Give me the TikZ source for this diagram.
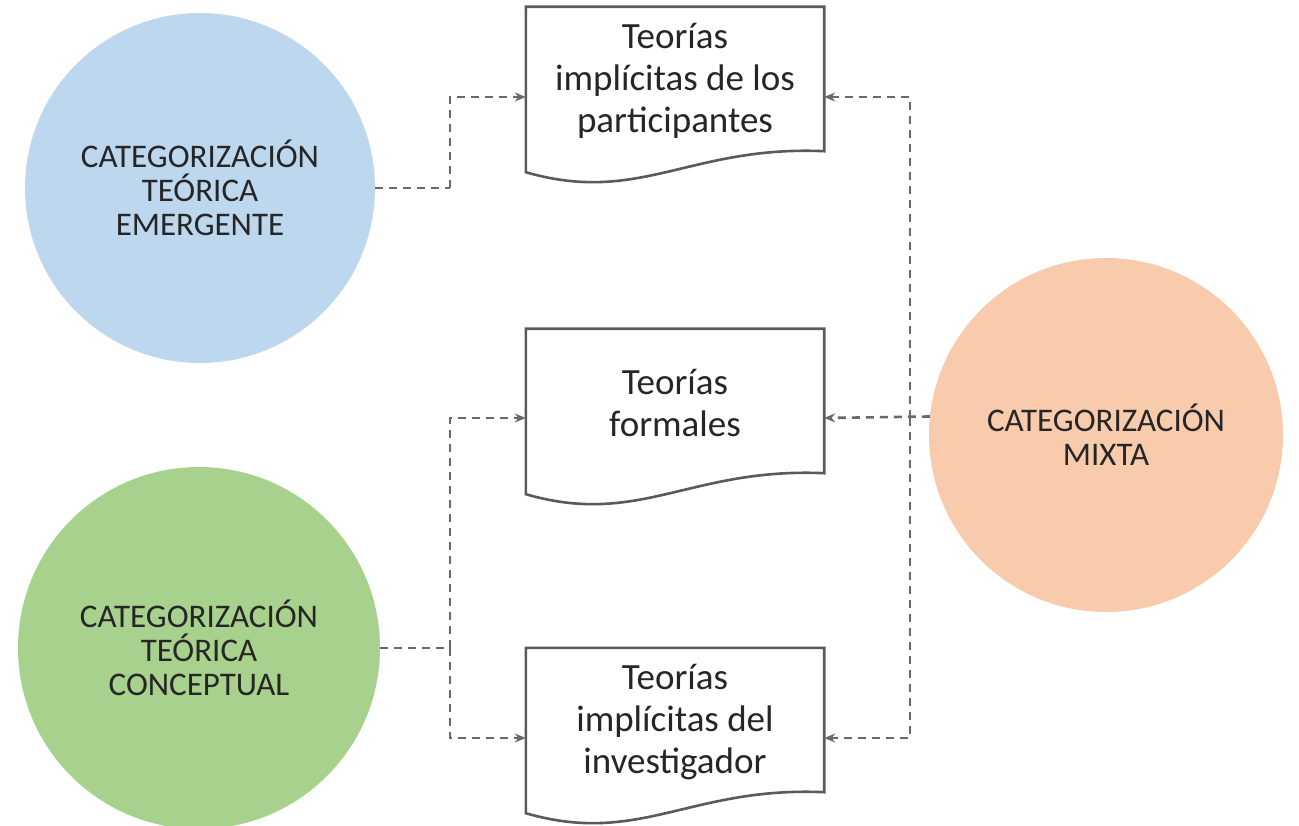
\documentclass[tikz,border=0pt]{standalone}
\usepackage{fontspec}
\setmainfont{Carlito}
\usetikzlibrary{arrows.meta}
\definecolor{cblue}{RGB}{189,215,238}
\definecolor{cgreen}{RGB}{169,209,142}
\definecolor{corange}{RGB}{248,203,173}
\definecolor{lgray}{RGB}{90,90,90}
\definecolor{cgray}{RGB}{105,105,105}
\begin{document}
\begin{tikzpicture}[x=1pt,y=-1pt,
  circ/.style={circle,inner sep=0pt,align=center,text=black!85,font=\fontsize{33}{34}\selectfont},
  doc/.style={minimum width=298pt,minimum height=144pt,inner sep=0pt,align=center,text=black!85,font=\fontsize{37}{42}\selectfont},
  docline/.style={draw=lgray,line width=2.6pt,fill=white},
  conn/.style={draw=cgray,line width=2.6pt,dash pattern=on 8pt off 6pt,-{Stealth[length=11pt,width=9pt]}},
  connb/.style={draw=cgray,line width=2.6pt,dash pattern=on 8pt off 6pt}]
\useasboundingbox (0,0) rectangle (1299,826);
\fill[white] (0,0) rectangle (1299,826);
\node[circ,fill=cblue,minimum size=350pt] (blue) at (200,188) {CATEGORIZACIÓN\\TEÓRICA\\EMERGENTE};
\node[circ,fill=cgreen,minimum size=362pt] (green) at (199,648) {CATEGORIZACIÓN\\TEÓRICA\\CONCEPTUAL};
\node[circ,fill=corange,minimum size=354pt] (orange) at (1106,435) {CATEGORIZACIÓN\\MIXTA};
\foreach \n/\y in {d1/79,d2/401,d3/720}{
  \path (675,\y) node[doc] (\n) {};
  \draw[docline] (\n.south east) -- (\n.north east) -- (\n.north west) -- ([yshift=-21pt]\n.south west)
    .. controls ([xshift=114pt,yshift=-54pt]\n.south west) and ([xshift=-134pt,yshift=6pt]\n.south east) .. (\n.south east) -- cycle;
}
\node[doc] at ([yshift=-2pt]d1) {Teorías\\implícitas de los\\participantes};
\node[doc] at ([yshift=-2pt]d2) {Teorías\\formales};
\node[doc] at ([yshift=-2pt]d3) {Teorías\\implícitas del\\investigador};
\coordinate (jb) at (450,188);
\coordinate (jg) at (450,648);
\coordinate (jo) at (910,418);
\draw[connb] (blue.east) -- (jb);
\draw[conn] (jb) |- ([yshift=-18pt]d1.west);
\draw[connb] (green.east) -- (jg);
\draw[conn] (jg) |- ([yshift=-17pt]d2.west);
\draw[conn] (jg) |- ([yshift=-18pt]d3.west);
\draw[conn] (orange.174) -- ([yshift=-17pt]d2.east);
\draw[conn] (jo) |- ([yshift=-18pt]d1.east);
\draw[conn] (jo) |- ([yshift=-18pt]d3.east);
\end{tikzpicture}
\end{document}
